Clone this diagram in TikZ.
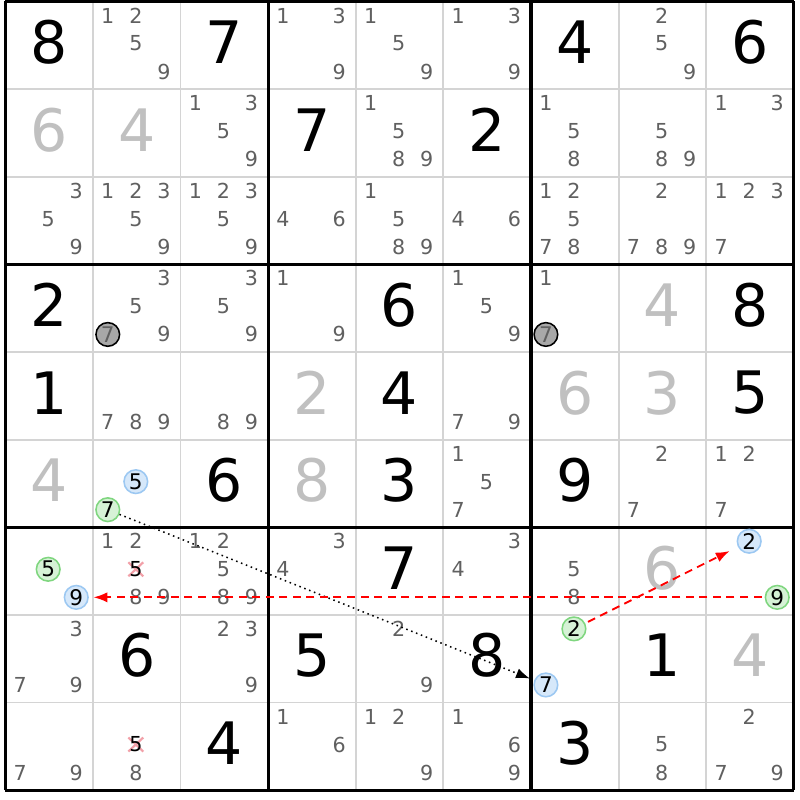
\documentclass[tikz,border=0pt]{standalone}
\usepackage{fontspec}
\setmainfont{DejaVu Sans}
\usetikzlibrary{arrows.meta,%
                backgrounds}
\definecolor{gridgray}{HTML}{D4D4D4}
\definecolor{solvedgray}{HTML}{C0C0C0}
\definecolor{candgray}{HTML}{606060}
\definecolor{ongreen}{HTML}{D6F2D6}
\definecolor{ongreenline}{HTML}{7FD67F}
\definecolor{onblue}{HTML}{D6E8FA}
\definecolor{onblueline}{HTML}{9CC8F2}
\definecolor{offgray}{HTML}{A8A8A8}
\definecolor{crosspink}{HTML}{F2A0A8}
\tikzstyle{given}=[inner sep=0pt,yshift=1pt,font=\fontsize{19}{19}\selectfont]
\tikzstyle{solved}=[given,text=solvedgray]
\tikzstyle{cand}=[inner sep=0pt,text=candgray,font=\fontsize{6.7}{6.7}\selectfont]
\tikzstyle{marked}=[circle,inner sep=0pt,minimum size=0.27cm,line width=0.5pt,font=\fontsize{7}{7}\selectfont]
\tikzstyle{greencand}=[marked,draw=ongreenline,fill=ongreen]
\tikzstyle{bluecand}=[marked,draw=onblueline,fill=onblue]
\tikzstyle{offcand}=[marked,draw=black,fill=offgray,text=candgray]
\tikzstyle{crossed}=[cand,text=black]
\tikzstyle{strong}=[red,line width=0.6pt,dash pattern=on 2.6pt off 1.8pt,->,shorten >=1.5pt,shorten <=1pt]
\tikzstyle{weak}=[black,line width=0.5pt,dash pattern=on 0.5pt off 1.2pt,->,shorten >=1.5pt]
\tikzstyle{crossmark}=[crosspink,line width=0.7pt]
\newcommand{\cand}[4][cand]{\node (r#2c#3n#4) at ({#3-1+0.17+0.32*mod(#4-1,3)},{10-#2-0.16-0.32*int((#4-1)/3)}) [#1] {#4};}
\newcommand{\cands}[3]{\foreach \d in {#3} {\cand{#1}{#2}{\d}}}

\begin{document}
\begin{tikzpicture}[>={Latex[length=4.5pt,width=3.3pt]}]
	  \useasboundingbox (-0.06,-0.113) rectangle (9.07,9.017);
	  \draw [gridgray,line width=0.6pt] (0,0) grid (9,9);
	  \draw [black,line width=1pt,step=3] (0,0) grid (9,9);
	  % givens and solved cells
	  \node (r1c1) at (0.5,8.5) [given] {8};
	  \node (r1c3) at (2.5,8.5) [given] {7};
	  \node (r1c7) at (6.5,8.5) [given] {4};
	  \node (r1c9) at (8.5,8.5) [given] {6};
	  \node (r2c1) at (0.5,7.5) [solved] {6};
	  \node (r2c2) at (1.5,7.5) [solved] {4};
	  \node (r2c4) at (3.5,7.5) [given] {7};
	  \node (r2c6) at (5.5,7.5) [given] {2};
	  \node (r4c1) at (0.5,5.5) [given] {2};
	  \node (r4c5) at (4.5,5.5) [given] {6};
	  \node (r4c8) at (7.5,5.5) [solved] {4};
	  \node (r4c9) at (8.5,5.5) [given] {8};
	  \node (r5c1) at (0.5,4.5) [given] {1};
	  \node (r5c4) at (3.5,4.5) [solved] {2};
	  \node (r5c5) at (4.5,4.5) [given] {4};
	  \node (r5c7) at (6.5,4.5) [solved] {6};
	  \node (r5c8) at (7.5,4.5) [solved] {3};
	  \node (r5c9) at (8.5,4.5) [given] {5};
	  \node (r6c1) at (0.5,3.5) [solved] {4};
	  \node (r6c3) at (2.5,3.5) [given] {6};
	  \node (r6c4) at (3.5,3.5) [solved] {8};
	  \node (r6c5) at (4.5,3.5) [given] {3};
	  \node (r6c7) at (6.5,3.5) [given] {9};
	  \node (r7c5) at (4.5,2.5) [given] {7};
	  \node (r7c8) at (7.5,2.5) [solved] {6};
	  \node (r8c2) at (1.5,1.5) [given] {6};
	  \node (r8c4) at (3.5,1.5) [given] {5};
	  \node (r8c6) at (5.5,1.5) [given] {8};
	  \node (r8c8) at (7.5,1.5) [given] {1};
	  \node (r8c9) at (8.5,1.5) [solved] {4};
	  \node (r9c3) at (2.5,0.5) [given] {4};
	  \node (r9c7) at (6.5,0.5) [given] {3};
	  % candidates
	  \cands{1}{2}{1,2,5,9} \cands{1}{4}{1,3,9} \cands{1}{5}{1,5,9} \cands{1}{6}{1,3,9} \cands{1}{8}{2,5,9}
	  \cands{2}{3}{1,3,5,9} \cands{2}{5}{1,5,8,9} \cands{2}{7}{1,5,8} \cands{2}{8}{5,8,9} \cands{2}{9}{1,3}
	  \cands{3}{1}{3,5,9} \cands{3}{2}{1,2,3,5,9} \cands{3}{3}{1,2,3,5,9} \cands{3}{4}{4,6} \cands{3}{5}{1,5,8,9}
	  \cands{3}{6}{4,6} \cands{3}{7}{1,2,5,7,8} \cands{3}{8}{2,7,8,9} \cands{3}{9}{1,2,3,7}
	  \cands{4}{2}{3,5,9} \cand[offcand]{4}{2}{7} \cands{4}{3}{3,5,9} \cands{4}{4}{1,9} \cands{4}{6}{1,5,9}
	  \cand{4}{7}{1} \cand[offcand]{4}{7}{7}
	  \cands{5}{2}{7,8,9} \cands{5}{3}{8,9} \cands{5}{6}{7,9}
	  \cand[bluecand]{6}{2}{5} \cand[greencand]{6}{2}{7} \cands{6}{6}{1,5,7} \cands{6}{8}{2,7} \cands{6}{9}{1,2,7}
	  \cand[greencand]{7}{1}{5} \cand[bluecand]{7}{1}{9} \cands{7}{2}{1,2,8,9} \cand[crossed]{7}{2}{5}
	  \cands{7}{3}{1,2,5,8,9} \cands{7}{4}{3,4} \cands{7}{6}{3,4} \cands{7}{7}{5,8}
	  \cand[bluecand]{7}{9}{2} \cand[greencand]{7}{9}{9}
	  \cands{8}{1}{3,7,9} \cands{8}{3}{2,3,9} \cands{8}{5}{2,9} \cand[greencand]{8}{7}{2} \cand[bluecand]{8}{7}{7}
	  \cands{9}{1}{7,9} \cand[crossed]{9}{2}{5} \cand{9}{2}{8} \cands{9}{4}{1,6} \cands{9}{5}{1,2,9}
	  \cands{9}{6}{1,6,9} \cands{9}{8}{5,8} \cands{9}{9}{2,7,9}
	  % links
	  \draw [weak] (r6c2n7) -- (r8c7n7);
	  \draw [strong] (r7c9n9) -- (r7c1n9);
	  \draw [strong,shorten >=3pt] (r8c7n2) -- (r7c9n2);
	  \begin{pgfonlayer}{background}
	    \fill [white] (-0.06,-0.113) rectangle (9.07,9.017);
	    \draw [crossmark] ([shift={(-0.085,0.08)}]r7c2n5.center) -- ([shift={(0.085,-0.08)}]r7c2n5.center);
	    \draw [crossmark] ([shift={(-0.085,-0.08)}]r7c2n5.center) -- ([shift={(0.085,0.08)}]r7c2n5.center);
	    \draw [crossmark] ([shift={(-0.085,0.08)}]r9c2n5.center) -- ([shift={(0.085,-0.08)}]r9c2n5.center);
	    \draw [crossmark] ([shift={(-0.085,-0.08)}]r9c2n5.center) -- ([shift={(0.085,0.08)}]r9c2n5.center);
	  \end{pgfonlayer}
    %
\end{tikzpicture}
\end{document}
